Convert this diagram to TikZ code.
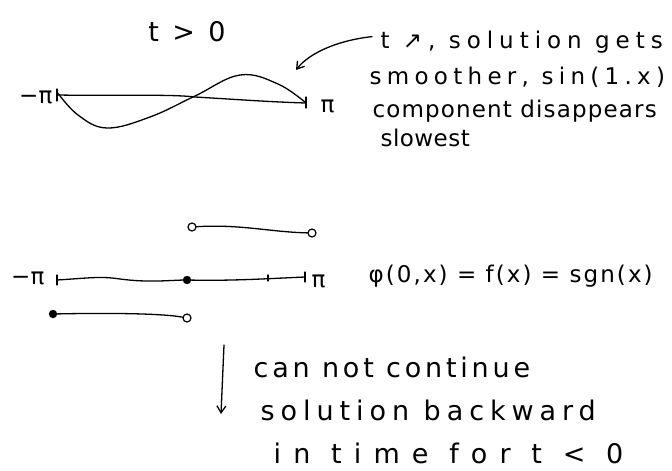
\documentclass[tikz,border=0pt]{standalone}
\usepackage{fontspec}
\setmainfont{DejaVu Sans}
\usetikzlibrary{arrows.meta}
\newcommand{\ls}[2]{{\addfontfeature{LetterSpace=#1}#2}}
\begin{document}
\begin{tikzpicture}[x=1pt,y=-1pt,line width=1.3pt,line cap=round,line join=round,
  hw/.style={font=\fontsize{23}{30}\selectfont,inner sep=0pt},
  hwb/.style={font=\fontsize{27}{30}\selectfont,inner sep=0pt},
  big/.style={font=\fontsize{27}{30}\selectfont,inner sep=0pt},
  arr/.style={-{Straight Barb[length=7pt,width=9pt]}},
  opendot/.style={circle,draw,fill=white,minimum size=8pt,inner sep=0pt,line width=1.2pt},
  fulldot/.style={circle,draw,fill=black,minimum size=7pt,inner sep=0pt}]
\useasboundingbox (0,0) rectangle (672,471);
% ---- top: t>0
\node[big,anchor=center] (tgt) at (187,32) {\ls{18}{t > 0}};
\coordinate (a1) at (57,95);
\coordinate (b1) at (306,103);
\node[hw,anchor=east] (mpi1) at (53,97) {−π};
\node[hw,anchor=west] (pi1) at (320,106) {π};
\draw (a1) .. controls (120,96) and (170,94) .. (195,97) .. controls (230,99) and (270,102) .. (b1);
\draw (57,89) -- (57,101);
\draw (306,97) -- (306,108);
\draw plot[smooth,tension=0.65] coordinates {(57,92) (78,115) (107,128) (150,117) (195,96) (240,75) (278,84) (306,103)};
% note
\node[hw,anchor=base west] (n1) at (380,48) {\ls{26}{t ↗, solution gets}};
\node[hw,anchor=base west] (n2) at (369,84) {\ls{23}{smoother, sin(1.x)}};
\node[hw,anchor=base west] (n3) at (372,117) {\ls{5}{component disappears}};
\node[hw,anchor=base west] (n4) at (380,146) {\ls{2}{slowest}};
\coordinate (tip1) at (296,70);
\draw[arr] (n1.west) ++(-8,-5) coordinate (s1) (s1) .. controls (340,40) and (310,52) .. (tip1);
% ---- middle
\node[hw,anchor=east] (mpi2) at (45,278) {−π};
\node[hw,anchor=west] (pi2) at (311,281) {π};
\coordinate (a2) at (57,280);
\coordinate (b2) at (305,277);
\draw (a2) .. controls (90,278) and (100,276) .. (120,279) .. controls (150,283) and (170,280) .. (187,280) .. controls (230,281) and (260,279) .. (b2);
\draw (57,275) -- (57,285);
\draw (305,272) -- (305,282);
\draw (268,275) -- (268,281);
\node[fulldot] (d0) at (187,280) {};
\node[opendot] (u1) at (192,227) {};
\node[opendot] (u2) at (312,233) {};
\draw (u1) .. controls (240,224) and (270,232) .. (u2);
\node[fulldot] (l1) at (53,314) {};
\node[opendot] (l2) at (187,318) {};
\draw (l1) .. controls (100,313) and (160,313) .. (l2);
\node[hw,anchor=base west] (phi) at (368,282) {\ls{9}{φ(0,x) = f(x) = sgn(x)}};
% ---- bottom
\coordinate (ar1) at (224,345);
\coordinate (ar2) at (221,414);
\draw[arr] (ar1) -- (ar2);
\node[hwb,anchor=base west] (c1) at (253,377) {\ls{14}{can not continue}};
\node[hwb,anchor=base west] (c2) at (260,420) {\ls{22}{solution backward}};
\node[hwb,anchor=base west] (c3) at (273,463) {\ls{45}{in time for t < 0}};
\end{tikzpicture}
\end{document}
